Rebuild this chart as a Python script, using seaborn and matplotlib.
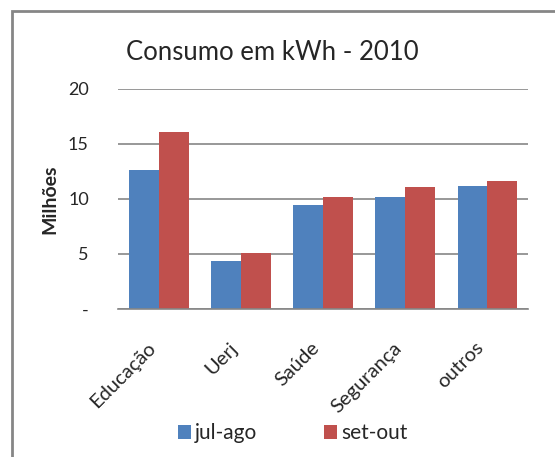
import pandas as pd
import numpy as np
import matplotlib.pyplot as plt
import matplotlib.transforms as mtransforms
import seaborn as sns
from matplotlib.patches import Rectangle, Patch

# dados (milhões de kWh)
categorias = ["Educação", "Uerj", "Saúde", "Segurança", "outros"]
jul_ago = [12.65, 4.35, 9.45, 10.2, 11.2]
set_out = [16.05, 5.1, 10.2, 11.1, 11.65]
periodos = ["jul-ago", "set-out"]
cores = ["#4F81BD", "#C0504D"]
yticks = [0, 5, 10, 15, 20]
ytick_labels = ["-", "5", "10", "15", "20"]

df = pd.DataFrame({
    "categoria": categorias * 2,
    "periodo": [periodos[0]] * len(categorias) + [periodos[1]] * len(categorias),
    "valor": jul_ago + set_out,
})

sns.set_style("white")
plt.rcParams["font.family"] = ["Lato", "DejaVu Sans"]

fig = plt.figure(figsize=(5.55, 4.57), dpi=100)
ax = fig.add_axes([0.2126, 0.3239, 0.7388, 0.4814])

sns.barplot(data=df, x="categoria", y="valor", hue="periodo", palette=cores,
            width=0.72, saturation=1, linewidth=0, ax=ax, legend=False)

ax.set_xlim(-0.5, 4.5)
ax.set_ylim(0, 20)
ax.set_yticks(yticks)
ax.set_yticklabels(ytick_labels, fontsize=13)
ax.yaxis.grid(True, color="#868686", linewidth=1.2)
ax.set_axisbelow(True)
for s in ["top", "right", "left"]:
    ax.spines[s].set_visible(False)
ax.spines["bottom"].set_color("#868686")
ax.spines["bottom"].set_linewidth(1.2)
ax.tick_params(axis="y", length=0, pad=21)
ax.tick_params(axis="x", length=0, pad=26)
ax.set_xticks(range(len(categorias)))
ax.set_xticklabels(categorias, rotation=45, ha="right", va="center",
                   rotation_mode="anchor", fontsize=14.5)
desloc = mtransforms.ScaledTranslation(-6 / 100, 0, fig.dpi_scale_trans)
for lbl in ax.get_xticklabels():
    lbl.set_transform(lbl.get_transform() + desloc)
ax.set_xlabel("")
ax.set_ylabel("Milhões", fontsize=14, fontweight="bold", va="center")
ax.yaxis.set_label_coords(-0.166, 0.5)

fig.text(0.49, 0.886, "Consumo em kWh - 2010", ha="center", va="center", fontsize=18.5)

# moldura do gráfico
fig.patches.append(Rectangle((12 / 555, -0.05), 1.2, 1 - 11 / 457 + 0.05,
                             transform=fig.transFigure, fill=False,
                             edgecolor="#868686", linewidth=2))

handles = [Patch(facecolor=c, edgecolor="none") for c in cores]
fig.legend(handles, periodos, loc="center", bbox_to_anchor=(0.527, 0.052), ncol=2,
           frameon=False, fontsize=15, handlelength=0.62, handleheight=0.62,
           handletextpad=0.2, columnspacing=3.2)

fig.savefig("out.png", dpi=100)
